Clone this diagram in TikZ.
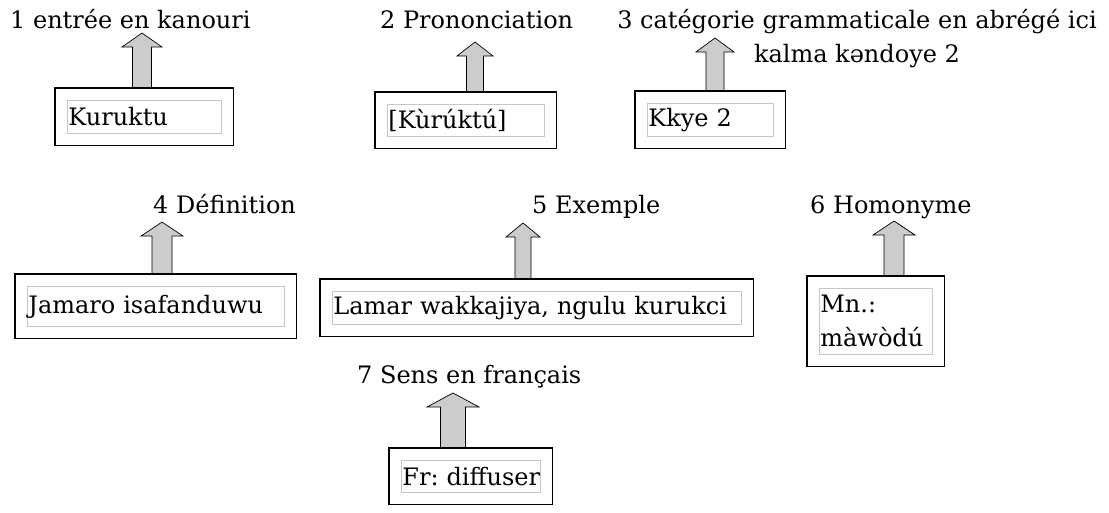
\documentclass[tikz,border=0pt]{standalone}
\usepackage{fontspec}
\setmainfont{DejaVu Serif}
\usetikzlibrary{calc,fit,positioning}
\frenchspacing

% grosse fleche : #1 cadre, #2 pointe, #3 demi-largeur du corps
\newcommand{\fleche}[3]{%
  \draw[fleche] ($(#2 |- #1.north)+(-#3,0)$) -- ($(#2)+(-#3,14)$) -- ($(#2)+({-2*#3-1},14)$)
    -- (#2) -- ($(#2)+({2*#3+1},14)$) -- ($(#2)+(#3,14)$) -- ($(#2 |- #1.north)+(#3,0)$) -- cycle;}

\begin{document}
\begin{tikzpicture}[x=1pt,y=-1pt,font=\fontsize{24}{34}\selectfont,
    champ/.style={draw=gray!45,line width=0.8pt,anchor=north west,inner xsep=1pt,inner ysep=0pt,align=left},
    cadre/.style={draw,line width=1.1pt,inner sep=12pt},
    etiq/.style={anchor=base west,inner sep=0pt},
    fleche/.style={draw,line width=0.7pt,fill=gray!40,line join=miter}]
  \useasboundingbox (0,0) rectangle (1109,512);

  % champs et cadres
  \node[champ,text width=152pt,minimum height=33pt] (cEntree) at (67,100) {\mbox{Kuruktu}};
  \node[cadre,fit=(cEntree)] (entree) {};
  \node[champ,text width=155pt,minimum height=32pt] (cPron) at (387,104) {\mbox{[Kùrúktú]}};
  \node[cadre,fit=(cPron)] (pron) {};
  \node[champ,text width=124pt,minimum height=33pt] (cCateg) at (647,103) {\mbox{Kkye 2}};
  \node[cadre,fit=(cCateg)] (categ) {};
  \node[champ,text width=255pt,minimum height=40pt] (cDefin) at (27,286) {\mbox{Jamaro isafanduwu}};
  \node[cadre,fit=(cDefin)] (defin) {};
  \node[champ,text width=407pt,minimum height=33pt] (cExemple) at (332,291) {\mbox{Lamar wakkajiya, ngulu kurukci}};
  \node[cadre,fit=(cExemple)] (exemple) {};
  \node[champ,text width=111pt,minimum height=66pt] (cHomon) at (819,288) {Mn.:\\màwòdú};
  \node[cadre,fit=(cHomon)] (homon) {};
  \node[champ,text width=137pt,minimum height=32pt] (cSens) at (401,460) {\mbox{Fr: diffuser}};
  \node[cadre,fit=(cSens)] (sens) {};

  % etiquettes
  \node[etiq] (lEntree) at (10,28) {1 entrée en kanouri};
  \node[etiq] (lPron) at (380,28) {2 Prononciation};
  \node[anchor=base,inner sep=0pt,align=center] (lCateg) at (857,62) {3 catégorie grammaticale en abrégé ici\\kalma kəndoye 2};
  \node[etiq] (lDefin) at (153,213) {4 Définition};
  \node[etiq] (lExemple) at (532,213) {5 Exemple};
  \node[etiq] (lHomon) at (810,213) {6 Homonyme};
  \node[etiq] (lSens) at (357,383) {7 Sens en français};

  % fleches
  \coordinate (t1) at (142,33);
  \coordinate (t2) at (475,42);
  \coordinate (t3) at (715,38);
  \coordinate (t4) at (162,222);
  \coordinate (t5) at (523,223);
  \coordinate (t6) at (894,221);
  \coordinate (t7) at (453,393);
  \fleche{entree}{t1}{9.5}
  \fleche{pron}{t2}{8.5}
  \fleche{categ}{t3}{9}
  \fleche{defin}{t4}{10}
  \fleche{exemple}{t5}{8}
  \fleche{homon}{t6}{10}
  \fleche{sens}{t7}{12.5}
\end{tikzpicture}
\end{document}
